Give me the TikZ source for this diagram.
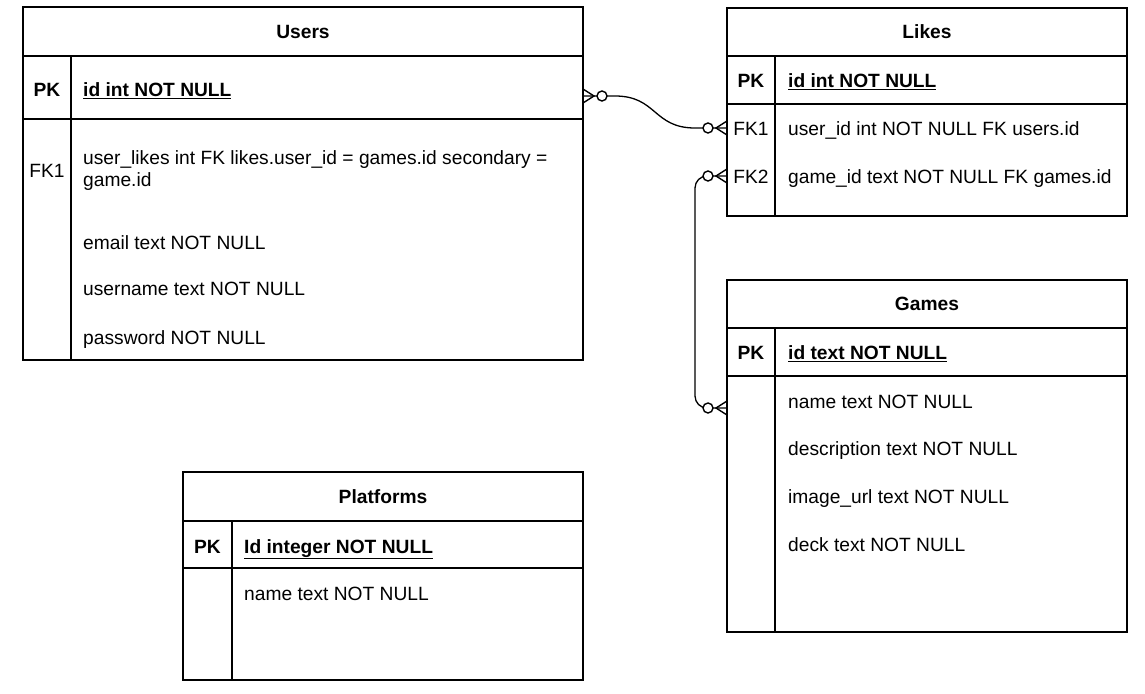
\documentclass[tikz,border=0pt]{standalone}
\usepackage{fontspec}
\setmainfont{Liberation Sans}
\usetikzlibrary{calc}
\tikzset{
  ln/.style={line width=1.4pt, draw=black},
  tbl/.style={ln, inner sep=0pt, outer sep=0pt, anchor=north west},
  ttl/.style={font=\fontsize{19.2}{22}\selectfont\bfseries, inner sep=0pt},
  key/.style={font=\fontsize{19.2}{22}\selectfont\bfseries, inner sep=0pt, anchor=mid, yshift=-4.5pt},
  fkey/.style={font=\fontsize{19.2}{22}\selectfont, inner sep=0pt, anchor=mid, yshift=-4.5pt},
  fld/.style={font=\fontsize{19.2}{22}\selectfont, inner sep=0pt, anchor=mid west, align=left, yshift=-4.5pt},
  fld2/.style={font=\fontsize{19.2}{21.5}\selectfont, inner sep=0pt, anchor=west, align=left},
  pkf/.style={font=\fontsize{19.2}{22}\selectfont\bfseries, inner sep=0pt, anchor=mid west, yshift=-4.5pt},
  zm/.pic={
    \draw[ln] (0,-7) -- (11,0) -- (0,7);
    \draw[ln, fill=white] (19,0) circle[radius=5pt];
  }
}
\newcommand{\ul}[1]{\underline{#1}}
\begin{document}
\begin{tikzpicture}[x=1pt,y=-1pt]
\useasboundingbox (0,0) rectangle (1145,693);

% ---------- Users ----------
\node[tbl, minimum width=560pt, minimum height=353pt] (users) at (23,7) {};
\draw[ln] (23,56) -- (583,56);
\draw[ln] (23,119) -- (583,119);
\draw[ln] (71,56) -- (71,360);
\node[ttl] (usersT) at (303,31.5) {Users};
\node[key] (usersPK) at (47,89) {PK};
\node[pkf] (usersId) at (83,89) {\ul{id int NOT NULL}};
\node[fkey] (usersFK1) at (47,170) {FK1};
\node[fld2] (usersLikes) at (83,170.5) {user\_likes int FK likes.user\_id = games.id secondary =\\game.id};
\node[fld] (usersEmail) at (83,242) {email text NOT NULL};
\node[fld] (usersName) at (83,288) {username text NOT NULL};
\node[fld] (usersPw) at (83,337) {password NOT NULL};

% ---------- Likes ----------
\node[tbl, minimum width=400pt, minimum height=208pt] (likes) at (727,8) {};
\draw[ln] (727,56) -- (1127,56);
\draw[ln] (727,104) -- (1127,104);
\draw[ln] (775,56) -- (775,216);
\node[ttl] (likesT) at (927,31.5) {Likes};
\node[key] (likesPK) at (751,80) {PK};
\node[pkf] (likesId) at (788,80) {\ul{id int NOT NULL}};
\node[fkey] (likesFK1) at (751,128) {FK1};
\node[fld] (likesU) at (788,128) {user\_id int NOT NULL FK users.id};
\node[fkey] (likesFK2) at (751,176) {FK2};
\node[fld] (likesG) at (788,176) {game\_id text NOT NULL FK games.id};

% ---------- Games ----------
\node[tbl, minimum width=400pt, minimum height=352pt] (games) at (727,280) {};
\draw[ln] (727,328) -- (1127,328);
\draw[ln] (727,376) -- (1127,376);
\draw[ln] (775,328) -- (775,632);
\node[ttl] (gamesT) at (927,304) {Games};
\node[key] (gamesPK) at (751,352) {PK};
\node[pkf] (gamesId) at (788,352) {\ul{id text NOT NULL}};
\node[fld] (gamesName) at (788,401) {name text NOT NULL};
\node[fld] (gamesDesc) at (788,448) {description text NOT NULL};
\node[fld] (gamesImg) at (788,496) {image\_url text NOT NULL};
\node[fld] (gamesDeck) at (788,544) {deck text NOT NULL};

% ---------- Platforms ----------
\node[tbl, minimum width=400pt, minimum height=208pt] (plat) at (183,472) {};
\draw[ln] (183,521) -- (583,521);
\draw[ln] (183,568) -- (583,568);
\draw[ln] (232,521) -- (232,680);
\node[ttl] (platT) at (383,497) {Platforms};
\node[key] (platPK) at (207.5,546) {PK};
\node[pkf] (platId) at (244,546) {\ul{Id integer NOT NULL}};
\node[fld] (platName) at (244,593) {name text NOT NULL};

% ---------- connectors ----------
\coordinate (uR) at (583,96);
\coordinate (lFK1) at (727,128);
\coordinate (lFK2) at (727,176);
\coordinate (gN) at (727,408);

\draw[ln, line width=1.3pt] (uR) -- ++(32,0) .. controls +(42,0) and +(-42,0) .. ([xshift=-32pt]lFK1) -- (lFK1);
\draw[ln, line width=1.3pt, rounded corners=12pt] (lFK2) -- ++(-32,0) |- (gN);

\pic at (uR) {zm};
\pic[rotate=180] at (lFK1) {zm};
\pic[rotate=180] at (lFK2) {zm};
\pic[rotate=180] at (gN) {zm};
\end{tikzpicture}
\end{document}
